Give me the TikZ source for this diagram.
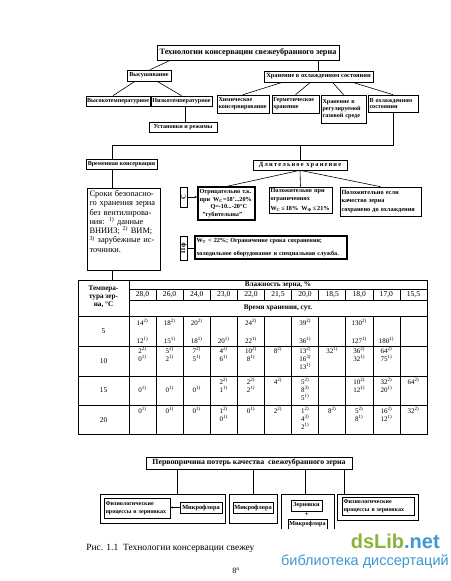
\documentclass[tikz,border=0pt]{standalone}
\usepackage{fontspec}
\setmainfont{Liberation Serif}
\newfontfamily\wmfont{Liberation Sans}
\usetikzlibrary{arrows.meta}
\newcommand\sz[2]{\fontsize{#1}{#2}\selectfont}
\newcommand\tsp[1]{\textsuperscript{#1)}}
\definecolor{wmgreen}{HTML}{8DB33A}
\definecolor{wmblue}{HTML}{3E97D1}
\begin{document}
\begin{tikzpicture}[x=1pt,y=-1pt,line width=0.6pt,
  box/.style={draw,inner sep=0pt,font=\bfseries\sz{6.1}{6.9}},
  tbox/.style={box,line width=1.1pt},
  lbox/.style={box,align=left},
  num/.style={inner sep=0pt,font=\sz{7}{7.5}},
  hd/.style={inner sep=0pt,font=\bfseries\sz{7.2}{8}},
  conn/.style={line width=0.6pt}]
\useasboundingbox (0,0) rectangle (450,581);
\fill[white] (0,0) rectangle (450,581);

% ---------- top tree ----------
\node[box,line width=0.9pt,minimum width=182,minimum height=15,font=\bfseries\sz{8.2}{9}] (title) at (248,52.5) {Технологии консервации свежеубранного зерна};
\node[box,minimum width=44,minimum height=11] (vys) at (149,75.5) {Высушивание};
\node[box,minimum width=109,minimum height=11,font=\bfseries\sz{6.4}{7}] (hran) at (318.5,76.5) {Хранение в охлажденном состоянии};
\node[box,minimum width=64,minimum height=10] (vysokot) at (118,101) {Высокотемпературное};
\node[box,minimum width=61,minimum height=10] (nizkot) at (181.5,101) {Низкотемпературное};
\node[lbox,minimum width=52,minimum height=18,text width=49] (chem) at (243,104) {Химическое\\консервирование};
\node[lbox,minimum width=47,minimum height=18,text width=44.5] (germ) at (295.5,104) {Герметическое\\хранение};
\node[lbox,minimum width=45,minimum height=28,text width=42] (gas) at (343.5,109) {Хранение в\\регулируемой\\газовой среде};
\node[lbox,minimum width=50,minimum height=17,text width=47] (vohl) at (393,103.5) {В охлажденном\\состоянии};
\node[box,minimum width=68,minimum height=10] (ust) at (183,127) {Установки и режимы};

\draw[conn] ([xshift=-78]title.south) -- ([xshift=1]vys.north);
\draw[conn] (title.south -| hran.north) -- (hran.north);
\draw[conn] ([xshift=-14]vys.south) -- ([xshift=-5]vysokot.north);
\draw[conn] ([xshift=8]vys.south) -- (nizkot.north);
\draw[conn] ([xshift=-36]hran.south) -- (chem.north);
\draw[conn] ([xshift=-8]hran.south) -- (germ.north);
\draw[conn] ([xshift=14]hran.south) -- (gas.north);
\draw[conn] ([xshift=34]hran.south) -- (vohl.north);
\draw[conn] ([xshift=2]ust.north) -- ([xshift=2]ust.north |- nizkot.south);

\node[box,minimum width=71,minimum height=10] (vrem) at (121.5,164.5) {Временная консервация};
\node[box,minimum width=94,minimum height=10,font=\bfseries\sz{6.4}{7}\addfontfeature{LetterSpace=18}] (dlit) at (300,165) {Длительное хранение};
\coordinate (jr) at (393,145);
\coordinate (jl) at (112,145);
\draw[conn] (vohl.south) -- (jr) -- (jl) -- (jl |- vrem.north);
\draw[conn] (dlit.north) -- (dlit.north |- jr);

% ---------- middle ----------
\node[draw,line width=0.8pt,minimum width=73,minimum height=82,inner sep=0pt] (sroki) at (123.5,229) {};
\node[anchor=north,inner sep=0pt,text width=68,align=left,font=\sz{8.4}{9.3}] (srokitxt) at ([yshift=-2.5]sroki.north) {%
\makebox[68pt][s]{Сроки безопасно-}\\
\makebox[68pt][s]{го хранения зерна}\\
\makebox[68pt][s]{без вентилирова-}\\
\makebox[68pt][s]{ния: \tsp{1} данные}\\
\makebox[68pt][s]{ВНИИЗ; \tsp{2} ВИМ;}\\
\makebox[68pt][s]{\tsp{3} зарубежные ис-}\\
точники.};
\draw[conn] (vrem.south -| jl) -- (sroki.north -| jl);

\node[tbox,lbox,minimum width=57,minimum height=33,text width=54,font=\bfseries\sz{6.2}{7.6}] (b1) at (226.5,203.5) {Отрицательно т.к.\\при\enspace W\textsubscript{C}=18'...20\%\\\hspace*{11pt}Q=-10...-20°C\\\hspace*{3pt}"губительны"};
\node[lbox,minimum width=63,minimum height=26,text width=60,font=\bfseries\sz{6.2}{7.8}] (b2) at (300.5,200) {Положительно при\\ограничениях\\[1.5pt]W\textsubscript{C}\,≤\,18\%\enspace W\textsubscript{Ф}\,≤\,21\%};
\node[lbox,minimum width=81,minimum height=29,text width=78,font=\bfseries\sz{6.3}{8.6}] (b3) at (380.5,201.5) {Положительно если\\качество зерна\\сохранено до охлаждения};
\draw[conn] (dlit.south) -- (b1.north);
\draw[conn] (dlit.south) -- (b2.north);
\draw[conn] (dlit.south) -- (b3.north);

\node[box,minimum width=7,minimum height=20,font=\bfseries\sz{6.6}{7}] (cbox) at (183.5,197) {\rotatebox{90}{С}};
\node[box,minimum width=7,minimum height=24,font=\bfseries\sz{6.6}{7}] (pfbox) at (183.5,248) {\rotatebox{90}{П\,ф}};
\node[tbox,lbox,minimum width=152,minimum height=23,text width=149,font=\bfseries\sz{6.2}{12.5}] (b4) at (271,247.5) {W\textsubscript{Т} < 22\%; Ограничение срока сохранения;\\холодильное оборудование и специальная служба.};
\draw[conn,-{Latex[length=2.5pt,width=2pt]}] (cbox.east) -- (b1.west |- cbox.east);
\draw[conn] (pfbox.east) -- (b4.west |- pfbox.east);

% ---------- table ----------
\node[draw,line width=0.8pt,minimum width=349,minimum height=154,inner sep=0pt] (tbl) at (252.5,357) {};
\draw[conn] (sroki.south -| jl) -- (tbl.north -| jl);
\draw (129,280) -- (129,434);
\draw (129,289) -- (427,289);
\draw (129,300) -- (427,300);
\foreach \yy in {316,346,376,405} \draw (78,\yy) -- (427,\yy);
\foreach \k in {1,...,10} {
  \draw ({129+\k*27.09},289) -- ({129+\k*27.09},300);
  \draw ({129+\k*27.09},316) -- ({129+\k*27.09},434);
}
\node[hd,align=center] (th) at (103.5,297) {Темпера-\\тура зер-\\на, °C};
\node[hd] (tw) at (278,284.5) {Влажность зерна, \%};
\node[hd] (tt) at (278,308) {Время хранения, сут.};
\foreach \v [count=\k] in {{28,0},{26,0},{24,0},{23,0},{22,0},{21,5},{20,0},{18,5},{18,0},{17,0},{15,5}}
  \node[num,font=\sz{7.6}{8}] (h\k) at ({129+(\k-0.5)*27.09},294.8) {\v};
\foreach \r/\yy in {5/331,10/361,15/390,20/420}
  \node[num,font=\sz{7.4}{8}] (r\r) at (103.5,\yy) {\r};
\foreach \c/\yy/\t in {
  1/322/14\tsp{2}, 1/340/12\tsp{1}, 2/322/18\tsp{2}, 2/340/15\tsp{1}, 3/322/20\tsp{2}, 3/340/18\tsp{1},
  4/340/20\tsp{1}, 5/322/24\tsp{2}, 5/340/22\tsp{1}, 7/322/39\tsp{2}, 7/340/36\tsp{1},
  9/322/130\tsp{2}, 9/340/127\tsp{1}, 10/340/180\tsp{1},
  1/350/2\tsp{2}, 1/358/0\tsp{1}, 2/350/5\tsp{2}, 2/358/2\tsp{1}, 3/350/7\tsp{2}, 3/358/5\tsp{1},
  4/350/4\tsp{2}, 4/358/6\tsp{1}, 5/350/10\tsp{2}, 5/358/8\tsp{1}, 6/350/8\tsp{2},
  7/350/13\tsp{2}, 7/358/16\tsp{3}, 7/366/13\tsp{1}, 8/350/32\tsp{1},
  9/350/36\tsp{2}, 9/358/32\tsp{1}, 10/350/64\tsp{2}, 10/358/75\tsp{1},
  1/389/0\tsp{1}, 2/389/0\tsp{1}, 3/389/0\tsp{1}, 4/381/2\tsp{2}, 4/389/1\tsp{1},
  5/381/2\tsp{2}, 5/389/2\tsp{1}, 6/381/4\tsp{2}, 7/381/5\tsp{2}, 7/389/8\tsp{3}, 7/397/5\tsp{1},
  9/381/10\tsp{2}, 9/389/12\tsp{1}, 10/381/32\tsp{2}, 10/389/20\tsp{1}, 11/381/64\tsp{2},
  1/410/0\tsp{1}, 2/410/0\tsp{1}, 3/410/0\tsp{1}, 4/410/1\tsp{2}, 4/418/0\tsp{1},
  5/410/0\tsp{1}, 6/410/2\tsp{2}, 7/410/1\tsp{2}, 7/418/4\tsp{3}, 7/426/2\tsp{1},
  8/410/8\tsp{2}, 9/410/5\tsp{2}, 9/418/8\tsp{1}, 10/410/16\tsp{2}, 10/418/12\tsp{1}, 11/410/32\tsp{2}}
  \node[num] (e-\c-\yy) at ({129+(\c-0.5)*27.09},\yy) {\t};

% ---------- bottom ----------
\node[box,line width=0.8pt,minimum width=206,minimum height=12,font=\bfseries\sz{7.8}{8.5}] (perv) at (249,463) {Первопричина потерь качества\enspace свежеубранного зерна};
\node[draw,minimum width=125,minimum height=29,inner sep=0pt] (b1o) at (162.5,508.5) {};
\node[lbox,minimum width=66,minimum height=20,text width=63,font=\bfseries\sz{6}{7.6}] (fiz1) at (137,508) {Физиологические\\процессы в зерновках};
\node[box,minimum width=42,minimum height=11,font=\bfseries\sz{6.3}{7}] (mik1) at (201,507.5) {Микрофлора};
\draw[conn,-{Latex[length=2.5pt,width=2pt]}] (mik1.west) -- (fiz1.east |- mik1.west);
\node[draw,minimum width=48,minimum height=29,inner sep=0pt] (b2o) at (253,508.5) {};
\node[box,minimum width=40,minimum height=11,font=\bfseries\sz{6.3}{7}] (mik2) at (253,507.5) {Микрофлора};
\coordinate (b3top) at (307.5,494);
\draw (281,529) -- (281,494) -- (334,494) -- (334,529);
\node[box,minimum width=31,minimum height=11,font=\bfseries\sz{6.1}{7}] (zern) at (306.5,505.5) {Зерновки};
\node[inner sep=0pt,font=\bfseries\sz{7}{7}] (plus) at (306.5,515) {+};
\begin{scope}
\clip (0,0) rectangle (450,528.5);
\node[box,minimum width=39,minimum height=11,font=\bfseries\sz{6.1}{7}] (mik3) at (307.5,524.5) {Микрофлора};
\end{scope}
\node[draw,minimum width=81,minimum height=26,inner sep=0pt] (b4o) at (377.5,507) {};
\node[lbox,minimum width=72,minimum height=18,text width=69,font=\bfseries\sz{6}{7.6}] (fiz4) at (378,506) {Физиологические\\процессы в зерновках};
\draw[conn] ([xshift=-72]perv.south) -- ([xshift=-72]perv.south |- b1o.north);
\draw[conn] ([xshift=4]perv.south) -- ([xshift=4]perv.south |- b2o.north);
\draw[conn] ([xshift=56]perv.south) -- ([xshift=56]perv.south |- b3top);
\draw[conn] ([xshift=95]perv.south) -- ([xshift=95]perv.south |- b4o.north);

% ---------- caption and marks ----------
\node[anchor=west,inner sep=0pt,font=\sz{9.5}{10}] (cap) at (86,548) {Рис. 1.1\enspace Технологии консервации свежеу};
\node[inner sep=0pt,font=\sz{8}{8}] (pg) at (236,571) {8\textsuperscript{а}};
\node[anchor=east,inner sep=0pt,font=\wmfont\bfseries\sz{20}{20}] (wm1) at (440,541) {\textcolor{wmgreen}{dsLib}\textcolor{wmblue}{.net}};
\node[anchor=east,inner sep=0pt,font=\wmfont\sz{14.5}{15}] (wm2) at (449,562) {\textcolor{wmblue}{библиотека диссертаций}};
\end{tikzpicture}
\end{document}
